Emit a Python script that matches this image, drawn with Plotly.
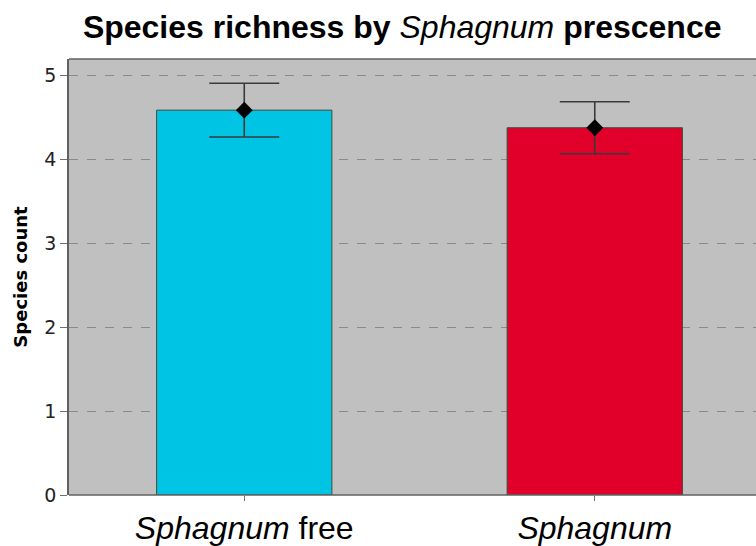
import plotly.graph_objects as go

# Mean species richness per plot group, with standard error
groups = ["<i>Sphagnum</i> free", "<i>Sphagnum</i>"]
mean_richness = [4.59, 4.38]
std_error = [0.32, 0.31]
bar_colors = ["#00C4E4", "#E0002A"]

fig = go.Figure()

fig.add_trace(go.Bar(
    x=groups,
    y=mean_richness,
    width=0.5,
    marker=dict(color=bar_colors, line=dict(color="#3C4A3C", width=1)),
    showlegend=False,
    hoverinfo="skip",
))

fig.add_trace(go.Scatter(
    x=groups,
    y=mean_richness,
    mode="markers",
    marker=dict(symbol="diamond", size=13, color="black"),
    error_y=dict(type="data", array=std_error, visible=True,
                 color="#3A3A3A", thickness=1.6, width=35),
    showlegend=False,
))

fig.update_layout(
    width=756,
    height=546,
    margin=dict(l=69, r=0, t=59, b=45),
    paper_bgcolor="white",
    plot_bgcolor="#C0C0C0",
    title=dict(
        text="<b>Species richness by </b><i>Sphagnum</i><b> prescence</b>",
        x=0.532, xref="container", xanchor="center",
        y=0.951, yref="container", yanchor="middle",
        font=dict(family="Liberation Sans, Arial", size=32, color="black"),
    ),
    xaxis=dict(
        range=[-0.5, 1.46],
        showgrid=False,
        showline=False,
        ticks="outside", ticklen=5, tickcolor="#707070",
        tickfont=dict(family="Liberation Sans, Arial", size=32, color="black"),
        zeroline=False,
    ),
    yaxis=dict(
        range=[0, 5.2],
        tickvals=[0, 1, 2, 3, 4, 5],
        showgrid=True, gridcolor="#8A8A8A", griddash="dash", gridwidth=1,
        showline=True, linecolor="#606060", linewidth=1.5,
        ticks="outside", ticklen=7, tickcolor="#707070",
        tickfont=dict(family="DejaVu Sans", size=19, color="#222222"),
        zeroline=False,
        title=dict(text="<b>Species count</b>",
                   font=dict(family="DejaVu Sans", size=18, color="black"),
                   standoff=12),
    ),
)

# Plot frame: bottom axis line and top border
fig.add_shape(type="line", xref="paper", yref="paper",
              x0=0, x1=1, y0=0, y1=0, line=dict(color="#606060", width=1.5))
fig.add_shape(type="line", xref="paper", yref="paper",
              x0=0, x1=1, y0=1, y1=1, line=dict(color="#606060", width=1.5))

fig.write_html("out.html")
